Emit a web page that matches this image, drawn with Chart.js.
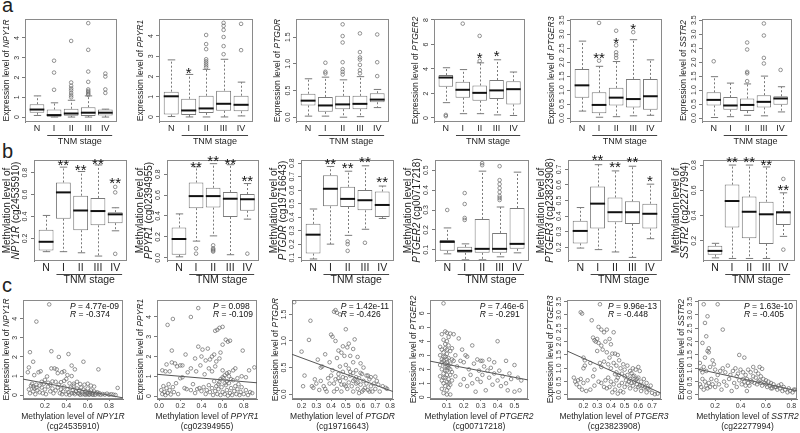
<!DOCTYPE html>
<html>
<head>
<meta charset="utf-8">
<script src="https://cdn.jsdelivr.net/npm/chart.js@4.4.1/dist/chart.umd.min.js"></script>
<style>
  body { margin: 0; background: #fff; }
  #fig { position: relative; width: 800px; height: 433px; overflow: hidden; font-family: "Liberation Sans", Arial, sans-serif; }
  #fig canvas { position: absolute; }
  .tag { position: absolute; left: 2px; font-size: 20px; line-height: 20px; color: #222; }
</style>
</head>
<body>
<div id="fig">
  <div class="tag" style="top:-5px">a</div>
  <div class="tag" style="top:141px">b</div>
  <div class="tag" style="top:275px">c</div>
</div>
<script>
const stages = ['N', 'I', 'II', 'III', 'IV'];

// a: expression by TNM stage, each box = [low whisker, Q1, median, Q3, high whisker]
const exprNPY1R = [[0.08,0.22,0.38,0.65,1.07],[0,0.02,0.1,0.38,0.72],[0,0.06,0.18,0.42,0.85],[0,0.05,0.22,0.5,1.07],[0,0.08,0.22,0.38,0.4]];
const exprNPY1ROut = [[],[1.38,2.25,2.85],[1.0,1.1,1.22,1.35,1.45,1.58,1.75,3.85],[1.12,1.18,1.25,1.32,1.4,1.78,2.3,3.4,4.75],[1.22,1.4,2.05,2.2]];
const exprPPYR1 = [[0.02,0.12,1.02,1.25,2.82],[0,0.1,0.32,0.9,2.1],[0,0.2,0.42,1.05,2.35],[0,0.3,0.65,1.3,2.85],[0.05,0.28,0.6,1.05,1.72]];
const exprPPYR1Out = [[],[],[2.45,2.55,2.65,2.75,2.85,3.35,3.6,4.05],[3.1,3.5,3.95,4.3,4.5,4.65],[3.3,4.6]];
const exprPPYR1Stars = [[2,'*',2.3]];
const exprPTGDR = [[0.02,0.22,0.31,0.44,0.72],[0.02,0.1,0.22,0.38,0.75],[0,0.15,0.24,0.4,0.7],[0.01,0.15,0.25,0.4,0.76],[0.18,0.28,0.33,0.45,0.52]];
const exprPTGDROut = [[],[0.82,0.85,1.02],[0.8,0.85,0.9,1.03,1.4,1.52,1.74],[0.82,0.88,0.98,1.08,1.12,1.22,1.57],[0.77,1.03,1.55]];
const exprPTGER2 = [[1.25,2.55,3.3,3.5,4.1],[0.35,1.65,2.3,2.95,3.95],[0.35,1.4,2.05,2.65,4.5],[0.25,1.55,2.25,3.1,4.75],[0.2,1.1,2.35,3.0,3.75]];
const exprPTGER2Out = [[0.15,0.25],[7.7],[4.65,6.7],[],[]];
const exprPTGER2Stars = [[3,'*',5.14],[4,'*',5.28]];
const exprPTGER3 = [[0.25,0.73,1.17,1.75,2.75],[0.03,0.17,0.47,0.92,1.85],[0.05,0.45,0.73,1.08,2.02],[0.08,0.38,0.68,1.4,2.8],[0.1,0.3,0.78,1.4,2.08]];
const exprPTGER3Out = [[],[2.05,3.4],[2.15,2.25,2.35,2.6,3.12],[3.07],[]];
const exprPTGER3Stars = [[2,'**',2.25],[3,'*',2.8],[4,'*',3.3]];
const exprSSTR2 = [[0.02,0.45,0.65,0.92,1.48],[0.05,0.3,0.45,0.75,1.25],[0.1,0.25,0.47,0.7,1.22],[0.08,0.38,0.58,0.82,1.5],[0.22,0.48,0.7,0.78,1.12]];
const exprSSTR2Out = [[2.03],[],[1.32,1.6,1.65,2.45,2.7],[1.95,2.15,2.95,3.38],[1.72]];

// b: methylation by TNM stage
const methNPY1R = [[0.08,0.09,0.17,0.28,0.41],[0.08,0.38,0.62,0.71,0.85],[0.07,0.275,0.455,0.59,0.81],[0.04,0.32,0.45,0.57,0.87],[0.27,0.34,0.42,0.44,0.48]];
const methNPY1ROut = [[],[],[],[],[0.06,0.62,0.67]];
const methNPY1RStars = [[2,'**',0.9],[3,'**',0.85],[4,'**',0.91],[5,'**',0.73]];
const methPPYR1 = [[0.01,0.03,0.18,0.29,0.42],[0.16,0.475,0.59,0.72,0.87],[0.21,0.48,0.59,0.67,0.9],[0.03,0.39,0.565,0.63,0.89],[0.37,0.45,0.56,0.61,0.71]];
const methPPYR1Out = [[],[0.04,0.09],[0.06,0.07,0.08,0.09,0.12],[],[0.04]];
const methPPYR1Stars = [[2,'**',0.9],[3,'**',0.95],[4,'**',0.93],[5,'**',0.76]];
const methPTGDR = [[0.09,0.13,0.27,0.35,0.46],[0.2,0.48,0.61,0.71,0.775],[0.265,0.475,0.535,0.625,0.74],[0.31,0.45,0.525,0.6,0.78],[0.39,0.4,0.49,0.59,0.63]];
const methPTGDROut = [[],[],[0.15,0.2,0.22],[0.21],[]];
const methPTGDRStars = [[2,'**',0.817],[3,'**',0.785],[4,'**',0.83],[5,'**',0.684]];
const methPTGER2 = [[0.08,0.095,0.14,0.15,0.21],[0.05,0.085,0.095,0.115,0.13],[0.05,0.085,0.105,0.255,0.495],[0.065,0.085,0.105,0.185,0.315],[0.085,0.105,0.13,0.31,0.49]];
const methPTGER2Out = [[0.3],[0.25,0.26,0.33,0.385],[0.525,0.535],[0.35,0.36,0.37,0.39,0.41,0.43,0.45,0.52],[]];
const methPTGER3 = [[0.195,0.225,0.305,0.37,0.455],[0.185,0.32,0.48,0.59,0.73],[0.17,0.36,0.425,0.52,0.69],[0.135,0.35,0.425,0.495,0.72],[0.255,0.32,0.415,0.48,0.605]];
const methPTGER3Out = [[],[],[],[],[]];
const methPTGER3Stars = [[2,'**',0.777],[3,'**',0.734],[4,'**',0.764],[5,'*',0.642]];
const methSSTR2 = [[0.065,0.09,0.12,0.16,0.18],[0.06,0.305,0.515,0.645,0.8],[0.06,0.22,0.43,0.55,0.8],[0.06,0.175,0.41,0.51,0.785],[0.235,0.325,0.425,0.435,0.58]];
const methSSTR2Out = [[],[],[],[],[0.13,0.69]];
const methSSTR2Stars = [[2,'**',0.848],[3,'**',0.848],[4,'**',0.827],[5,'**',0.63]];

// c: methylation (x) vs expression (y), fitted line end points, and test results
const corrNPY1R = [[0.24,4.75],[0.12,3.85],[0.26,2.3],[0.06,2.25],[0.42,2.15],[0.33,2.0],[0.09,1.75],[0.56,1.75],[0.45,1.55],[0.05,1.45],[0.26,1.4],[0.29,1.4],[0.48,1.35],[0.7,1.35],[0.31,1.35],[0.16,1.25],[0.38,1.25],[0.04,1.2],[0.14,1.2],[0.36,1.2],[0.32,1.15],[0.41,1.05],[0.1,1.05],[0.45,1.0],[0.22,0.98],
  [0.08,0.6],[0.12,0.55],[0.17,0.7],[0.2,0.8],[0.23,0.65],[0.27,0.72],[0.3,0.7],[0.35,0.68],[0.38,0.75],[0.4,0.85],[0.43,0.62],[0.47,0.6],[0.5,0.7],[0.53,0.58],[0.57,0.55],[0.6,0.6],[0.63,0.5],[0.66,0.45],[0.15,0.5],[0.33,0.55],
  [0.05,0.3],[0.06,0.1],[0.07,0.5],[0.09,0.2],[0.1,0.35],[0.11,0.05],[0.13,0.25],[0.15,0.15],[0.17,0.4],[0.18,0.1],[0.2,0.3],[0.21,0.05],[0.23,0.45],[0.25,0.2],[0.27,0.35],[0.28,0.1],[0.3,0.25],[0.32,0.4],[0.34,0.1],[0.35,0.3],[0.37,0.2],[0.38,0.45],[0.4,0.05],[0.41,0.3],[0.42,0.15],[0.44,0.4],[0.45,0.1],[0.46,0.25],[0.47,0.5],[0.48,0.05],[0.49,0.2],[0.5,0.35],[0.51,0.1],[0.52,0.25],[0.53,0.02],[0.54,0.4],[0.55,0.15],[0.56,0.3],[0.57,0.05],[0.58,0.2],[0.59,0.1],[0.6,0.35],[0.61,0.02],[0.62,0.15],[0.63,0.25],[0.64,0.05],[0.65,0.12],[0.66,0.2],[0.67,0.02],[0.68,0.1],[0.69,0.15],[0.7,0.05],[0.71,0.1],[0.72,0.02],[0.74,0.06],[0.76,0.03],[0.78,0.08],[0.8,0.02],[0.82,0.05],[0.84,0.03],[0.86,0.01],[0.43,0.02],[0.52,0.08],[0.6,0.08],[0.65,0.02],[0.55,0.05],[0.62,0.05],[0.58,0.02],[0.47,0.12],[0.36,0.05],[0.25,0.55],[0.19,0.6],[0.12,0.4],[0.09,0.45],[0.88,0.38]];
const fitNPY1R = [[-0.005,0.84],[0.93,-0.14]];
const statNPY1R = ['4.77e-09', '-0.374'];

const corrPPYR1 = [[0.37,4.45],[0.13,3.9],[0.3,4.0],[0.08,3.6],[0.57,3.45],[0.55,3.35],[0.53,3.3],[0.6,3.5],[0.63,2.85],[0.65,2.75],[0.67,2.8],[0.6,2.6],[0.79,2.3],[0.12,2.3],[0.25,2.1],[0.37,2.5],[0.41,2.35],[0.46,2.4],[0.5,2.0],[0.52,2.1],[0.48,1.85],[0.44,1.8],[0.57,1.9],[0.54,1.75],[0.34,1.9],[0.4,2.0],[0.58,2.2],[0.07,1.6],[0.12,1.7],[0.15,1.65],[0.2,1.55],[0.03,1.3],[0.06,1.25],[0.1,1.25],[0.17,1.5],[0.22,1.55],[0.27,1.2],[0.3,1.4],[0.35,1.25],[0.39,1.55],[0.43,1.1],[0.47,1.4],[0.5,1.25],[0.53,1.5],[0.6,1.3],[0.64,1.15],[0.66,1.2],[0.7,1.3],[0.72,1.4],[0.74,0.9],[0.78,1.0],[0.82,0.95],[0.9,1.45],[0.85,1.3],
  [0.02,0.3],[0.03,0.1],[0.04,0.5],[0.05,0.2],[0.06,0.05],[0.07,0.4],[0.08,0.15],[0.09,0.6],[0.1,0.3],[0.11,0.08],[0.13,0.45],[0.14,0.2],[0.16,0.65],[0.18,0.1],[0.2,0.9],[0.22,0.95],[0.24,0.4],[0.26,0.35],[0.3,0.3],[0.32,0.6],[0.34,0.15],[0.36,0.35],[0.38,0.4],[0.4,0.25],[0.42,0.45],[0.44,0.1],[0.45,0.3],[0.47,0.55],[0.48,0.2],[0.5,0.4],[0.51,0.05],[0.52,0.75],[0.53,0.25],[0.54,0.5],[0.55,0.1],[0.56,0.35],[0.57,0.7],[0.58,0.05],[0.59,0.45],[0.6,0.2],[0.61,0.9],[0.62,0.1],[0.63,0.55],[0.64,0.3],[0.65,0.02],[0.66,0.65],[0.67,0.15],[0.68,0.4],[0.69,0.05],[0.7,0.8],[0.71,0.25],[0.72,0.5],[0.73,0.1],[0.74,0.35],[0.75,0.6],[0.76,0.05],[0.77,0.2],[0.78,0.45],[0.8,0.1],[0.82,0.3],[0.84,0.05],[0.86,0.2],[0.88,0.15],[0.6,0.95],[0.62,1.05],[0.58,0.85],[0.56,0.6],[0.64,0.75],[0.66,1.0],[0.68,0.85],[0.62,0.65]];
const fitPPYR1 = [[-0.02,1.1],[0.925,0.67]];
const statPPYR1 = ['0.098', '-0.109'];

const corrPTGDR = [[0.15,1.73],[0.26,1.38],[0.42,1.55],[0.43,1.58],[0.44,1.53],[0.46,1.5],[0.5,1.22],[0.4,1.12],[0.41,1.08],[0.43,1.0],[0.56,1.03],[0.25,1.02],[0.52,0.95],[0.48,0.9],[0.51,0.88],[0.55,0.85],[0.45,0.82],[0.47,0.78],[0.36,0.75],[0.2,0.8],[0.53,0.72],[0.58,0.7],[0.49,0.72],[0.31,0.65],[0.44,0.68],[0.39,0.6],[0.55,0.6],[0.6,0.58],[0.5,0.55],[0.46,0.52],[0.62,0.5],[0.52,0.48],[0.34,0.52],[0.33,0.5],[0.41,0.45],[0.57,0.45],[0.48,0.42],[0.55,0.4],[0.61,0.38],[0.65,0.35],[0.7,0.33],[0.45,0.38],[0.4,0.35],[0.22,0.35],[0.29,0.28],[0.27,0.15],[0.21,0.15],[0.3,0.2],[0.33,0.25],[0.35,0.15],[0.37,0.05],[0.38,0.3],[0.42,0.2],[0.43,0.28],[0.44,0.1],[0.46,0.25],[0.47,0.05],[0.48,0.32],[0.49,0.18],[0.5,0.3],[0.51,0.1],[0.52,0.22],[0.53,0.35],[0.54,0.15],[0.55,0.05],[0.56,0.28],[0.57,0.2],[0.58,0.1],[0.59,0.3],[0.6,0.18],[0.61,0.05],[0.62,0.25],[0.63,0.12],[0.64,0.2],[0.65,0.08],[0.66,0.28],[0.67,0.15],[0.68,0.05],[0.69,0.2],[0.7,0.1],[0.71,0.25],[0.72,0.18],[0.73,0.05],[0.75,0.15],[0.77,0.12],[0.78,0.1],[0.6,0.4],[0.57,0.32],[0.53,0.42],[0.45,0.3],[0.39,0.2],[0.36,0.1],[0.32,0.08],[0.28,0.12],[0.64,0.35],[0.67,0.32],[0.58,0.22],[0.62,0.08],[0.55,0.25],[0.5,0.15],[0.47,0.18],[0.42,0.05],[0.66,0.05],[0.59,0.02]];
const fitPTGDR = [[0.135,0.75],[0.82,0.05]];
const statPTGDR = ['1.42e-11', '-0.426'];

const corrPTGER2 = [[0.08,6.7],[0.07,4.5],[0.09,4.7],[0.1,4.6],[0.12,4.55],[0.14,4.5],[0.11,4.3],[0.08,4.1],[0.1,4.0],[0.06,3.6],[0.07,3.4],[0.09,3.8],[0.11,3.7],[0.13,3.5],[0.12,3.3],[0.08,3.2],[0.1,3.1],[0.06,3.0],[0.09,2.9],[0.11,2.8],[0.07,2.7],[0.13,2.7],[0.08,2.6],[0.1,2.5],[0.12,2.4],[0.06,2.3],[0.09,2.2],[0.11,2.1],[0.07,2.0],[0.1,1.9],[0.13,1.8],[0.08,1.7],[0.12,1.6],[0.06,1.5],[0.09,1.4],[0.11,1.3],[0.07,1.2],[0.1,1.1],[0.08,1.0],[0.12,0.9],[0.09,0.8],[0.11,0.7],[0.07,0.6],[0.1,0.5],[0.08,0.3],[0.12,0.2],[0.09,3.5],[0.1,3.4],[0.08,2.9],[0.09,2.4],[0.1,2.7],[0.11,2.3],[0.09,1.9],[0.1,1.6],[0.08,1.4],[0.1,2.2],[0.07,2.5],[0.12,2.0],[0.11,1.0],[0.1,0.2],[0.13,1.2],[0.14,2.6],[0.15,3.0],[0.15,1.5],[0.16,2.2],[0.17,4.2],[0.18,2.6],[0.18,0.9],
  [0.2,2.5],[0.21,3.0],[0.22,2.9],[0.23,2.0],[0.24,1.6],[0.25,3.7],[0.25,1.0],[0.26,2.4],[0.27,0.4],[0.28,2.7],[0.29,1.9],[0.3,1.1],[0.3,2.6],[0.31,1.6],[0.32,2.2],[0.33,0.5],[0.34,1.9],[0.35,1.4],[0.36,2.1],[0.37,0.9],[0.38,1.7],[0.38,2.5],[0.4,4.0],[0.4,1.2],[0.41,1.9],[0.42,0.8],[0.43,1.5],[0.45,2.6],[0.45,1.0],[0.46,0.5],[0.47,1.7],[0.48,1.3],[0.5,0.4],[0.5,2.3],[0.52,1.4],[0.53,0.5],[0.54,1.2],[0.2,1.3],[0.22,0.8],[0.19,3.4],[0.28,1.3],[0.35,2.7],[0.31,2.6]];
const fitPTGER2 = [[0.0,2.58],[0.58,1.24]];
const statPTGER2 = ['7.46e-6', '-0.291'];

const corrPTGER3 = [[0.32,3.4],[0.18,3.1],[0.19,3.05],[0.26,2.8],[0.31,2.55],[0.33,2.45],[0.37,2.45],[0.35,2.35],[0.42,2.35],[0.27,2.15],[0.28,2.05],[0.29,2.0],[0.31,1.95],[0.3,2.1],[0.33,1.85],[0.36,2.0],[0.39,2.1],[0.4,1.9],[0.34,1.7],[0.3,1.65],[0.37,1.6],[0.41,1.55],[0.43,1.55],[0.45,1.5],[0.39,1.4],[0.2,1.4],[0.21,1.3],[0.21,1.1],[0.2,1.0],[0.25,1.2],[0.27,0.7],[0.28,0.95],[0.32,1.2],[0.35,1.25],[0.33,1.05],[0.38,1.15],[0.4,1.0],[0.42,1.2],[0.44,1.1],[0.46,1.3],[0.47,1.0],[0.49,1.15],[0.5,0.95],[0.52,1.1],[0.54,0.9],[0.56,1.0],[0.58,0.95],[0.6,1.05],[0.61,0.9],[0.44,0.85],[0.46,0.75],[0.48,0.8],[0.5,0.7],[0.52,0.75],[0.54,0.6],[0.56,0.7],[0.58,0.55],[0.6,0.65],[0.62,0.5],[0.64,0.6],[0.66,0.45],[0.36,0.55],[0.38,0.65],[0.4,0.5],[0.42,0.4],[0.44,0.55],[0.46,0.35],[0.48,0.45],[0.5,0.3],[0.52,0.4],[0.54,0.25],[0.56,0.35],[0.58,0.2],[0.6,0.3],[0.62,0.15],[0.64,0.25],[0.66,0.1],[0.68,0.2],[0.7,0.08],[0.72,0.03],[0.74,0.05],[0.35,0.3],[0.37,0.25],[0.39,0.3],[0.41,0.1],[0.43,0.2],[0.45,0.05],[0.47,0.15],[0.49,0.1],[0.51,0.55],[0.53,0.5],[0.55,0.45],[0.57,0.5],[0.59,0.4],[0.61,0.35],[0.63,0.35],[0.65,0.3],[0.67,0.25],[0.69,0.35],[0.13,0.65],[0.14,0.5],[0.15,0.4],[0.16,0.55],[0.17,0.3],[0.18,0.6],[0.19,0.2],[0.2,0.45],[0.22,0.15],[0.23,0.55],[0.25,0.2],[0.28,0.35],[0.31,0.5],[0.33,0.45],[0.55,0.82],[0.57,0.72],[0.59,0.6],[0.45,0.65],[0.43,0.78]];
const fitPTGER3 = [[0.08,1.65],[0.765,0.07]];
const statPTGER3 = ['9.96e-13', '-0.448'];

const corrSSTR2 = [[0.11,3.4],[0.22,3.4],[0.14,2.95],[0.12,2.7],[0.26,2.45],[0.13,2.2],[0.1,1.95],[0.15,1.75],[0.14,1.65],[0.15,1.6],[0.39,1.5],[0.12,1.4],[0.18,1.3],[0.43,1.4],[0.08,1.2],[0.11,1.05],[0.09,0.95],[0.1,0.85],[0.13,0.9],[0.16,1.05],[0.19,1.15],[0.2,0.95],[0.22,0.75],[0.24,0.9],[0.26,1.0],[0.28,0.85],[0.3,1.1],[0.32,0.75],[0.34,0.9],[0.36,1.0],[0.38,0.8],[0.4,0.95],[0.42,0.85],[0.44,0.75],[0.46,0.95],[0.48,0.85],[0.5,1.05],[0.52,0.9],[0.54,0.8],[0.56,0.7],[0.58,0.6],[0.6,0.55],[0.62,0.5],[0.64,0.45],[0.66,0.4],[0.7,0.35],[0.74,0.3],[0.78,0.25],[0.82,0.2],[0.08,0.4],[0.09,0.3],[0.1,0.6],[0.11,0.2],[0.12,0.5],[0.13,0.35],[0.14,0.25],[0.15,0.45],[0.16,0.3],[0.17,0.6],[0.18,0.4],[0.2,0.3],[0.21,0.55],[0.23,0.4],[0.25,0.2],[0.27,0.5],[0.29,0.35],[0.31,0.6],[0.33,0.15],[0.35,0.45],[0.37,0.3],[0.39,0.55],[0.41,0.4],[0.43,0.5],[0.45,0.6],[0.47,0.35],[0.49,0.5],[0.51,0.45],[0.53,0.4],[0.55,0.55],[0.57,0.35],[0.59,0.45],[0.61,0.3],[0.63,0.35],[0.65,0.25],[0.67,0.3],[0.69,0.2],[0.71,0.25],[0.73,0.15],[0.75,0.2],[0.77,0.1],[0.79,0.15],[0.81,0.1],[0.83,0.2],[0.5,0.7],[0.52,0.65],[0.48,0.55],[0.46,0.45],[0.44,0.35],[0.42,0.6],[0.54,0.5],[0.56,0.45],[0.6,0.4],[0.64,0.25],[0.68,0.3],[0.72,0.4],[0.55,1.05],[0.57,0.98],[0.45,0.15],[0.37,0.7]];
const fitSSTR2 = [[0.065,0.97],[0.845,0.16]];
const statSSTR2 = ['1.63e-10', '-0.405'];

const FONT = "'Liberation Sans', Arial, sans-serif";
const INK = '#1e1e1e';
const GREY = '#7a7a7a';
const PT = '#666';

// panel tables (frame left/right in page px, axis limits)
const rowA = [
  {gene:'NPY1R', stats:exprNPY1R, out:exprNPY1ROut, stars:[], ticks:[0,1,2,3,4], dec:0, min:-0.25, max:4.96, fl:25, fr:118},
  {gene:'PPYR1', stats:exprPPYR1, out:exprPPYR1Out, stars:exprPPYR1Stars, ticks:[0,1,2,3,4], dec:0, min:-0.25, max:4.84, fl:159, fr:254},
  {gene:'PTGDR', stats:exprPTGDR, out:exprPTGDROut, stars:[], ticks:[0,0.5,1,1.5], dec:1, min:-0.09, max:1.84, fl:296, fr:390},
  {gene:'PTGER2', stats:exprPTGER2, out:exprPTGER2Out, stars:exprPTGER2Stars, ticks:[0,2,4,6,8], dec:0, min:-0.33, max:8.08, fl:434, fr:526},
  {gene:'PTGER3', stats:exprPTGER3, out:exprPTGER3Out, stars:exprPTGER3Stars, ticks:[0,0.5,1,1.5,2,2.5,3,3.5], dec:1, min:-0.14, max:3.54, fl:570, fr:663},
  {gene:'SSTR2', stats:exprSSTR2, out:exprSSTR2Out, stars:[], ticks:[0,0.5,1,1.5,2,2.5,3,3.5], dec:1, min:-0.14, max:3.54, fl:702, fr:793}
];
const rowB = [
  {gene:'NPY1R', cg:'cg24535910', stats:methNPY1R, out:methNPY1ROut, stars:methNPY1RStars, ticks:[0.2,0.4,0.6,0.8], dec:1, min:-0.005, max:0.915, fl:34, fr:128},
  {gene:'PPYR1', cg:'cg02394955', stats:methPPYR1, out:methPPYR1Out, stars:methPPYR1Stars, ticks:[0,0.2,0.4,0.6,0.8], dec:1, min:-0.03, max:0.935, fl:167, fr:260},
  {gene:'PTGDR', cg:'cg19716643', stats:methPTGDR, out:methPTGDROut, stars:methPTGDRStars, ticks:[0.1,0.2,0.3,0.4,0.5,0.6,0.7,0.8], dec:1, min:0.075, max:0.823, fl:301, fr:395},
  {gene:'PTGER2', cg:'cg00717218', stats:methPTGER2, out:methPTGER2Out, stars:[], ticks:[0.1,0.2,0.3,0.4,0.5], dec:1, min:0.044, max:0.551, fl:435, fr:530},
  {gene:'PTGER3', cg:'cg23823908', stats:methPTGER3, out:methPTGER3Out, stars:methPTGER3Stars, ticks:[0.2,0.3,0.4,0.5,0.6,0.7], dec:1, min:0.112, max:0.76, fl:568, fr:662},
  {gene:'SSTR2', cg:'cg22277994', stats:methSSTR2, out:methSSTR2Out, stars:methSSTR2Stars, ticks:[0.2,0.4,0.6,0.8], dec:1, min:0.04, max:0.84, fl:703, fr:796}
];
const rowC = [
  {gene:'NPY1R', cg:'cg24535910', pts:corrNPY1R, fit:fitNPY1R, stat:statNPY1R, xt:[0.2,0.4,0.6,0.8], xmin:-0.005, xmax:0.93, yt:[0,1,2,3,4], dec:0, min:-0.2, max:4.98, fl:23, fr:123},
  {gene:'PPYR1', cg:'cg02394955', pts:corrPPYR1, fit:fitPPYR1, stat:statPPYR1, xt:[0,0.2,0.4,0.6,0.8], xmin:-0.02, xmax:0.925, yt:[0,1,2,3,4], dec:0, min:-0.15, max:4.86, fl:157, fr:257},
  {gene:'PTGDR', cg:'cg19716643', pts:corrPTGDR, fit:fitPTGDR, stat:statPTGDR, xt:[0.2,0.3,0.4,0.5,0.6,0.7,0.8], xmin:0.135, xmax:0.82, yt:[0,0.5,1,1.5], dec:1, min:-0.09, max:1.77, fl:292, fr:393},
  {gene:'PTGER2', cg:'cg00717218', pts:corrPTGER2, fit:fitPTGER2, stat:statPTGER2, xt:[0.1,0.2,0.3,0.4,0.5], xmin:0.0, xmax:0.58, yt:[0,1,2,3,4,5,6], dec:0, min:-0.12, max:6.94, fl:430, fr:528},
  {gene:'PTGER3', cg:'cg23823908', pts:corrPTGER3, fit:fitPTGER3, stat:statPTGER3, xt:[0.2,0.3,0.4,0.5,0.6,0.7], xmin:0.08, xmax:0.765, yt:[0,0.5,1,1.5,2,2.5,3,3.5], dec:1, min:-0.15, max:3.56, fl:567, fr:661},
  {gene:'SSTR2', cg:'cg22277994', pts:corrSSTR2, fit:fitSSTR2, stat:statSSTR2, xt:[0.2,0.4,0.6,0.8], xmin:0.065, xmax:0.845, yt:[0,0.5,1,1.5,2,2.5,3,3.5], dec:1, min:-0.15, max:3.56, fl:698, fr:797}
];

const geoA = {top:0, frameTop:19, frameBottom:122, bottom:150, yw:24, pr:4, fs:9};
const geoB = {top:145, frameTop:160, frameBottom:261, bottom:290, yw:34, pr:4, fs:10.5};
const geoC = {top:288, frameTop:300, frameBottom:399, bottom:433, yw:24, pr:16};

const fig = document.getElementById('fig');
function makeCanvas(left, top, w, h) {
  const c = document.createElement('canvas');
  c.width = w; c.height = h;
  c.style.left = left + 'px'; c.style.top = top + 'px';
  c.style.width = w + 'px'; c.style.height = h + 'px';
  fig.appendChild(c);
  return c;
}

const framePlugin = {
  id: 'frame',
  beforeDatasetsDraw(chart) {
    const {ctx, chartArea: a} = chart;
    ctx.save();
    ctx.strokeStyle = '#8a8a8a';
    ctx.lineWidth = 1;
    ctx.strokeRect(Math.round(a.left) + 0.5, Math.round(a.top) + 0.5, Math.round(a.right - a.left) - 1, Math.round(a.bottom - a.top) - 1);
    ctx.restore();
  }
};

// axis titles with the gene symbol in italics: runs of [text, italic]
function drawRuns(ctx, runs, size, cx, cy, rot) {
  ctx.save();
  ctx.translate(cx, cy);
  ctx.rotate(rot);
  ctx.fillStyle = INK;
  ctx.textAlign = 'left';
  ctx.textBaseline = 'middle';
  const fonts = runs.map(([, it]) => `${it ? 'italic ' : ''}${size}px ${FONT}`);
  const widths = runs.map(([t], i) => { ctx.font = fonts[i]; return ctx.measureText(t).width; });
  let x = -widths.reduce((s, w) => s + w, 0) / 2;
  runs.forEach(([t], i) => { ctx.font = fonts[i]; ctx.fillText(t, x, 0); x += widths[i]; });
  ctx.restore();
}

function titlePlugin(yLines, xLines, size) {
  return {
    id: 'titles',
    afterDraw(chart) {
      const {ctx, chartArea: a} = chart;
      const cy = (a.top + a.bottom) / 2, cx = (a.left + a.right) / 2;
      yLines.forEach(([runs, off]) => drawRuns(ctx, runs, size, a.left - off, cy, -Math.PI / 2));
      xLines.forEach(([runs, off]) => drawRuns(ctx, runs, size, cx, a.bottom + off, 0));
    }
  };
}

function yAxis(p, g, padTicks) {
  return {
    type: 'linear', position: 'left', min: p.min, max: p.max, bounds: 'data',
    afterBuildTicks: s => { s.ticks = p.ticks.map(v => ({value: v})); },
    afterFit: s => { s.width = g.yw; },
    ticks: {
      autoSkip: false, minRotation: 90, maxRotation: 90, crossAlign: 'center',
      padding: padTicks, color: '#333', font: {family: FONT, size: 7},
      callback: v => Number(v).toFixed(p.dec)
    },
    grid: {display: true, drawOnChartArea: false, drawTicks: true, tickLength: 3, color: GREY},
    border: {display: true, color: GREY}
  };
}

function boxPlugin(p, g) {
  return {
    id: 'boxes',
    afterDatasetsDraw(chart) {
      const {ctx, chartArea: a} = chart;
      const xs = chart.scales.x, ys = chart.scales.y;
      const py = v => ys.getPixelForValue(v);
      const bars = chart.getDatasetMeta(0).data;
      ctx.save();
      p.stats.forEach((s, i) => {
        const b = bars[i], x = Math.round(b.x) + 0.5, hw = b.width / 2;
        ctx.strokeStyle = GREY; ctx.lineWidth = 1;
        ctx.setLineDash([2, 2]);
        ctx.beginPath();
        ctx.moveTo(x, py(s[3])); ctx.lineTo(x, py(s[4]));
        ctx.moveTo(x, py(s[1])); ctx.lineTo(x, py(s[0]));
        ctx.stroke();
        ctx.setLineDash([]);
        ctx.beginPath();
        ctx.moveTo(x - hw / 2, py(s[4])); ctx.lineTo(x + hw / 2, py(s[4]));
        ctx.moveTo(x - hw / 2, py(s[0])); ctx.lineTo(x + hw / 2, py(s[0]));
        ctx.stroke();
        ctx.strokeStyle = '#111'; ctx.lineWidth = 2;
        ctx.beginPath();
        ctx.moveTo(b.x - hw, py(s[2])); ctx.lineTo(b.x + hw, py(s[2]));
        ctx.stroke();
      });
      // significance marks
      ctx.fillStyle = '#111';
      ctx.font = `15px ${FONT}`;
      ctx.textAlign = 'center';
      ctx.textBaseline = 'alphabetic';
      p.stars.forEach(([c, t, v]) => ctx.fillText(t, xs.getPixelForValue(c), py(v) + 8));
      // TNM stage bracket under I..IV
      const x0 = xs.getPixelForValue(1.6), x1 = xs.getPixelForValue(5.4);
      const ly = Math.round(a.bottom + 13) + 0.5;
      ctx.strokeStyle = '#444'; ctx.lineWidth = 1;
      ctx.beginPath(); ctx.moveTo(x0, ly); ctx.lineTo(x1, ly); ctx.stroke();
      ctx.fillStyle = INK;
      ctx.font = `${g.fs}px ${FONT}`;
      ctx.textBaseline = 'middle';
      ctx.fillText('TNM stage', (x0 + x1) / 2, a.bottom + 19.5);
      ctx.restore();
    }
  };
}

function boxChart(p, g, titles) {
  const w = g.yw + (p.fr - p.fl) + g.pr, h = g.bottom - g.top;
  const canvas = makeCanvas(p.fl - g.yw, g.top, w, h);
  const outliers = [];
  p.out.forEach((vals, i) => vals.forEach(v => outliers.push({x: i + 1, y: v})));
  new Chart(canvas, {
    type: 'bar',
    data: {
      datasets: [
        {data: p.stats.map((s, i) => ({x: i + 1, y: [s[1], s[3]]})), backgroundColor: '#fff', borderColor: GREY, borderWidth: 1, borderSkipped: false, categoryPercentage: 1, barPercentage: 0.86},
        {type: 'scatter', data: outliers, pointRadius: 1.8, pointBorderColor: PT, pointBackgroundColor: 'rgba(0,0,0,0)', pointBorderWidth: 0.7}
      ]
    },
    options: {
      responsive: false, animation: false, devicePixelRatio: 1,
      layout: {padding: {left: 0, right: g.pr, top: g.frameTop - g.top, bottom: 0}},
      plugins: {legend: {display: false}, tooltip: {enabled: false}},
      scales: {
        x: {
          type: 'linear', min: 0.3, max: 5.7, bounds: 'data', offset: false,
          afterBuildTicks: s => { s.ticks = stages.map((_, i) => ({value: i + 1})); },
          afterFit: s => { s.height = g.bottom - g.frameBottom; },
          ticks: {autoSkip: false, maxRotation: 0, padding: 1, color: INK, font: {family: FONT, size: g.fs, lineHeight: 1.2}, callback: v => stages[v - 1]},
          grid: {display: false, drawTicks: false, offset: false},
          border: {display: false}
        },
        y: yAxis(p, g, p.dec ? (g === geoB ? 1 : 0) : 3)
      }
    },
    plugins: [framePlugin, boxPlugin(p, g), titles]
  });
}

function statPlugin(p) {
  return {
    id: 'stat',
    afterDatasetsDraw(chart) {
      const {ctx, chartArea: a} = chart;
      const size = 8.5;
      const it = `italic ${size}px ${FONT}`, rm = `${size}px ${FONT}`;
      const lines = [['P', ' = ' + p.stat[0]], ['R', ' = ' + p.stat[1]]];
      ctx.save();
      const widths = lines.map(([k, v]) => {
        ctx.font = it; const w1 = ctx.measureText(k).width;
        ctx.font = rm; return w1 + ctx.measureText(v).width;
      });
      const x0 = a.right - 4 - Math.max(...widths);
      ctx.fillStyle = '#111';
      ctx.textAlign = 'left';
      ctx.textBaseline = 'middle';
      lines.forEach(([k, v], i) => {
        const y = a.top + 6.5 + i * 8.5;
        ctx.font = it; ctx.fillText(k, x0, y);
        const w1 = ctx.measureText(k).width;
        ctx.font = rm; ctx.fillText(v, x0 + w1, y);
      });
      ctx.restore();
    }
  };
}

function scatterChart(p, g) {
  const w = g.yw + (p.fr - p.fl) + g.pr, h = g.bottom - g.top;
  const canvas = makeCanvas(p.fl - g.yw, g.top, w, h);
  const yp = {ticks: p.yt, dec: p.dec, min: p.min, max: p.max};
  const titles = titlePlugin(
    [[[['Expression level of ', false], [p.gene, true]], 16]],
    [[[['Methylation level of ', false], [p.gene, true]], 17.5], [[['(' + p.cg + ')', false]], 28]],
    8.5);
  new Chart(canvas, {
    type: 'scatter',
    data: {
      datasets: [
        {data: p.pts.map(([x, y]) => ({x, y})), pointRadius: 1.8, pointBorderColor: PT, pointBackgroundColor: 'rgba(0,0,0,0)', pointBorderWidth: 0.7},
        {type: 'line', data: p.fit.map(([x, y]) => ({x, y})), borderColor: '#555', borderWidth: 1, pointRadius: 0, fill: false}
      ]
    },
    options: {
      responsive: false, animation: false, devicePixelRatio: 1,
      layout: {padding: {left: 0, right: g.pr, top: g.frameTop - g.top, bottom: 0}},
      plugins: {legend: {display: false}, tooltip: {enabled: false}},
      scales: {
        x: {
          type: 'linear', min: p.xmin, max: p.xmax, bounds: 'data',
          afterBuildTicks: s => { s.ticks = p.xt.map(v => ({value: v})); },
          afterFit: s => { s.height = g.bottom - g.frameBottom; },
          ticks: {autoSkip: false, maxRotation: 0, padding: 1, color: '#333', font: {family: FONT, size: 7}, callback: v => Number(v).toFixed(1)},
          grid: {display: true, drawOnChartArea: false, drawTicks: true, tickLength: 2, color: GREY},
          border: {display: true, color: GREY}
        },
        y: yAxis(yp, g, p.dec ? 0 : 3)
      }
    },
    plugins: [framePlugin, statPlugin(p), titles]
  });
}

rowA.forEach(p => boxChart(p, geoA,
  titlePlugin([[[['Expression level of ', false], [p.gene, true]], 18]], [], 8.5)));
rowB.forEach(p => boxChart(p, geoB,
  titlePlugin([[[['Methylation level of', false]], 27], [[[p.gene, true], [' (' + p.cg + ')', false]], 17.5]], [], 10)));
rowC.forEach(p => scatterChart(p, geoC));
</script>
</body>
</html>
